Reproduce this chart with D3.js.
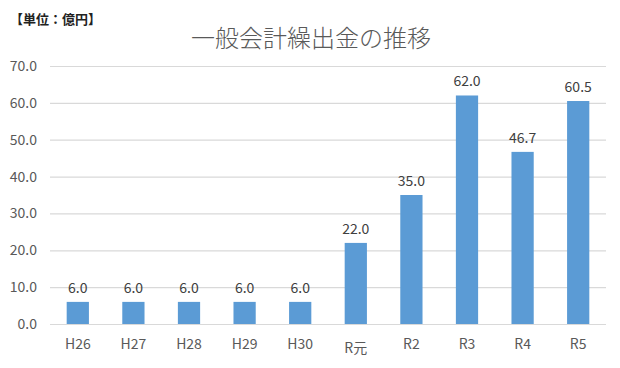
<!DOCTYPE html>
<html>
  <head>
    <meta charset="UTF-8" />
    <title>一般会計繰出金の推移</title>
    <style>
      body { margin: 0; background: #fff; }
      svg text { font-family: 'Noto Sans CJK JP', 'Noto Sans', sans-serif; }
    </style>
  </head>
  <body>
    <svg width="620" height="368"></svg>
    <script src="https://cdn.jsdelivr.net/npm/d3@7"></script>
    <script>
      const years = ['H26', 'H27', 'H28', 'H29', 'H30', 'R元', 'R2', 'R3', 'R4', 'R5'];
      const values = [6.0, 6.0, 6.0, 6.0, 6.0, 22.0, 35.0, 62.0, 46.7, 60.5];
      const yTicks = [0, 10, 20, 30, 40, 50, 60, 70];

      const svg = d3.select('svg');
      const margin = { top: 66, right: 14, bottom: 44, left: 50 };
      const width = +svg.attr('width');
      const height = +svg.attr('height');
      const innerWidth = width - margin.left - margin.right;
      const innerHeight = height - margin.top - margin.bottom;

      const xScale = d3.scaleBand().domain(years).range([0, innerWidth]).paddingInner(0.6).paddingOuter(0.3);
      const yScale = d3.scaleLinear().domain([0, 70]).range([innerHeight, 0]);

      svg.append('text')
        .attr('x', 10)
        .attr('y', 24)
        .attr('font-size', 13)
        .attr('font-weight', 'bold')
        .attr('fill', '#222')
        .text('【単位：億円】');

      svg.append('text')
        .attr('x', 311)
        .attr('y', 47)
        .attr('text-anchor', 'middle')
        .attr('font-size', 24)
        .attr('font-weight', 300)
        .attr('fill', '#595959')
        .text('一般会計繰出金の推移');

      const g = svg.append('g').attr('transform', `translate(${margin.left},${margin.top})`);

      const yAxisG = g.append('g')
        .call(d3.axisLeft(yScale).tickValues(yTicks).tickSize(-innerWidth).tickFormat(d3.format('.1f')).tickPadding(13));
      yAxisG.select('.domain').remove();
      yAxisG.selectAll('line').attr('stroke', '#d9d9d9').attr('stroke-width', 1.2);
      yAxisG.selectAll('text').attr('font-size', 14).attr('fill', '#595959').attr('font-family', null);

      g.selectAll('rect.bar')
        .data(values)
        .enter()
        .append('rect')
        .attr('class', 'bar')
        .attr('x', (d, i) => xScale(years[i]))
        .attr('y', (d) => yScale(d))
        .attr('width', xScale.bandwidth())
        .attr('height', (d) => innerHeight - yScale(d))
        .attr('fill', '#5b9bd5');

      g.selectAll('text.label')
        .data(values)
        .enter()
        .append('text')
        .attr('class', 'label')
        .attr('x', (d, i) => xScale(years[i]) + xScale.bandwidth() / 2)
        .attr('y', (d) => yScale(d) - 9)
        .attr('text-anchor', 'middle')
        .attr('font-size', 14)
        .attr('fill', '#404040')
        .text((d) => d.toFixed(1));

      const xAxisG = g.append('g')
        .attr('transform', `translate(0,${innerHeight})`)
        .call(d3.axisBottom(xScale).tickSize(0).tickPadding(15));
      xAxisG.select('.domain').remove();
      xAxisG.selectAll('text')
        .attr('font-size', 14)
        .attr('fill', '#595959')
        .attr('font-family', null)
        .attr('dy', (d) => (d === 'R元' ? '1.0em' : '0.71em'));
    </script>
  </body>
</html>
